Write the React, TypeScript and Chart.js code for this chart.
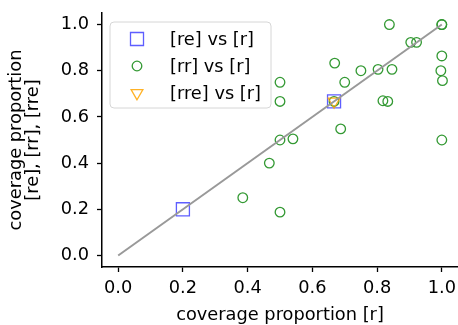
import React, { useEffect, useRef } from "react";
import { Chart, registerables } from "chart.js";

Chart.register(...registerables);

const reX = [0.2, 0.667];
const reY = [0.2, 0.667];

const rrX = [0.838, 1.0, 1.0, 0.904, 0.922, 0.669, 1.0, 0.75, 0.803, 0.846, 0.997, 0.5, 0.7, 1.002, 0.5, 0.667, 0.818, 0.833, 0.6875, 0.5, 0.54, 1.0, 0.467, 0.385, 0.5];
const rrY = [1.0, 1.0, 1.0, 0.923, 0.923, 0.833, 0.864, 0.8, 0.806, 0.806, 0.8, 0.75, 0.75, 0.757, 0.667, 0.667, 0.67, 0.667, 0.548, 0.5, 0.505, 0.5, 0.4, 0.25, 0.1875];

const rreX = [0.667];
const rreY = [0.667];

const diagX = [0, 1];
const diagY = [0, 1];

const tickValues = [0, 0.2, 0.4, 0.6, 0.8, 1.0];

const seriesLabels = ["[re] vs [r]", "[rr] vs [r]", "[rre] vs [r]"];
const xTitle = "coverage proportion [r]";
const yTitle = ["coverage proportion", "[re], [rr], [rre]"];

const FONT = "'DejaVu Sans', sans-serif";
const FS = 17.8;

const zip = (xs: number[], ys: number[]) => xs.map((x, i) => ({ x, y: ys[i] }));

const BLUE = "rgba(40,40,255,0.75)";
const GREEN = "#339933";
const ORANGE = "rgba(255,165,0,0.85)";

function drawMarker(ctx: CanvasRenderingContext2D, kind: string, x: number, y: number, color: string) {
  ctx.save();
  ctx.strokeStyle = color;
  ctx.lineWidth = 1.3;
  ctx.beginPath();
  if (kind === "rect") {
    ctx.rect(x - 6.5, y - 6.5, 13, 13);
  } else if (kind === "circle") {
    ctx.arc(x, y, 4.8, 0, Math.PI * 2);
  } else {
    const r = 6.8;
    ctx.moveTo(x, y + r);
    ctx.lineTo(x - r * Math.sin(Math.PI / 3), y - r / 2);
    ctx.lineTo(x + r * Math.sin(Math.PI / 3), y - r / 2);
    ctx.closePath();
  }
  ctx.stroke();
  ctx.restore();
}

const legendPlugin = {
  id: "boxLegend",
  afterDraw(chart: any) {
    const ctx = chart.ctx as CanvasRenderingContext2D;
    const ca = chart.chartArea;
    const x0 = ca.left + 8;
    const y0 = ca.top + 9;
    const w = 161;
    const h = 86;
    const r = 4;
    ctx.save();
    ctx.beginPath();
    ctx.moveTo(x0 + r, y0);
    ctx.lineTo(x0 + w - r, y0);
    ctx.arcTo(x0 + w, y0, x0 + w, y0 + r, r);
    ctx.lineTo(x0 + w, y0 + h - r);
    ctx.arcTo(x0 + w, y0 + h, x0 + w - r, y0 + h, r);
    ctx.lineTo(x0 + r, y0 + h);
    ctx.arcTo(x0, y0 + h, x0, y0 + h - r, r);
    ctx.lineTo(x0, y0 + r);
    ctx.arcTo(x0, y0, x0 + r, y0, r);
    ctx.closePath();
    ctx.fillStyle = "rgba(255,255,255,0.8)";
    ctx.fill();
    ctx.strokeStyle = "#d6d6d6";
    ctx.lineWidth = 1;
    ctx.stroke();
    const kinds = ["rect", "circle", "triangle"];
    const colors = [BLUE, GREEN, ORANGE];
    ctx.font = `${FS}px ${FONT}`;
    ctx.fillStyle = "#000";
    ctx.textBaseline = "middle";
    ctx.textAlign = "left";
    seriesLabels.forEach((lab, i) => {
      const yy = y0 + 17 + i * 27;
      drawMarker(ctx, kinds[i], x0 + 27, yy, colors[i]);
      ctx.fillText(lab, x0 + 60, yy + 1);
    });
    ctx.restore();
  },
};

export default function App() {
  const ref = useRef<HTMLCanvasElement | null>(null);
  useEffect(() => {
    if (!ref.current) return;
    const fixTicks = (scale: any) => {
      scale.ticks = tickValues.map((v) => ({ value: v }));
    };
    const zeroPad = (s: any) => {
      s.paddingTop = 0;
      s.paddingBottom = 0;
      s.paddingLeft = 0;
      s.paddingRight = 0;
    };
    const chart = new Chart(ref.current, {
      type: "scatter",
      data: {
        datasets: [
          {
            label: seriesLabels[0],
            data: zip(reX, reY),
            pointStyle: "rect",
            pointRadius: 9.2,
            pointBorderWidth: 1.3,
            borderColor: BLUE,
            backgroundColor: "rgba(0,0,0,0)",
            order: 3,
          },
          {
            label: seriesLabels[1],
            data: zip(rrX, rrY),
            pointStyle: "circle",
            pointRadius: 4.8,
            pointBorderWidth: 1.3,
            borderColor: GREEN,
            backgroundColor: "rgba(0,0,0,0)",
            order: 2,
          },
          {
            label: seriesLabels[2],
            data: zip(rreX, rreY),
            pointStyle: "triangle",
            pointRotation: 180,
            pointRadius: 6.8,
            pointBorderWidth: 1.3,
            borderColor: ORANGE,
            backgroundColor: "rgba(0,0,0,0)",
            order: 1,
          },
          {
            type: "line",
            label: "diag",
            data: zip(diagX, diagY),
            borderColor: "#999999",
            borderWidth: 2,
            pointRadius: 0,
            showLine: true,
            order: 0,
          } as any,
        ],
      },
      options: {
        animation: false,
        responsive: false,
        maintainAspectRatio: false,
        layout: { autoPadding: false, padding: { left: 0, top: 13, right: 0, bottom: 0 } },
        plugins: {
          legend: { display: false },
          tooltip: { enabled: false },
        },
        scales: {
          x: {
            type: "linear",
            min: -0.05,
            max: 1.05,
            afterBuildTicks: fixTicks,
            afterFit: (s: any) => {
              s.height = 58;
              zeroPad(s);
            },
            border: { display: true, color: "#000", width: 1.5 },
            grid: { drawOnChartArea: false, drawTicks: true, tickLength: 5, tickColor: "#000", tickWidth: 1.3 },
            ticks: {
              color: "#000",
              padding: 6,
              font: { family: FONT, size: FS },
              maxRotation: 0,
              callback: (v: any) => Number(v).toFixed(1),
            },
            title: {
              display: true,
              text: xTitle,
              color: "#000",
              font: { family: FONT, size: FS },
              padding: { top: 0, bottom: -1.5 },
            },
          },
          y: {
            type: "linear",
            min: -0.05,
            max: 1.05,
            afterBuildTicks: fixTicks,
            afterFit: (s: any) => {
              s.width = 102;
              zeroPad(s);
            },
            border: { display: true, color: "#000", width: 1.5 },
            grid: { drawOnChartArea: false, drawTicks: true, tickLength: 5, tickColor: "#000", tickWidth: 1.3 },
            ticks: {
              color: "#000",
              padding: 8,
              font: { family: FONT, size: FS },
              callback: (v: any) => Number(v).toFixed(1),
            },
            title: {
              display: true,
              text: yTitle,
              color: "#000",
              font: { family: FONT, size: FS, lineHeight: 0.95 },
              padding: { top: 8, bottom: 0 },
            },
          },
        },
      },
      plugins: [legendPlugin],
    });
    return () => chart.destroy();
  }, []);
  return (
    <div style={{ position: "fixed", left: 0, top: 0, width: 458, height: 325, background: "#fff" }}>
      <canvas ref={ref} width={458} height={325} style={{ display: "block", width: 458, height: 325 }} />
    </div>
  );
}
